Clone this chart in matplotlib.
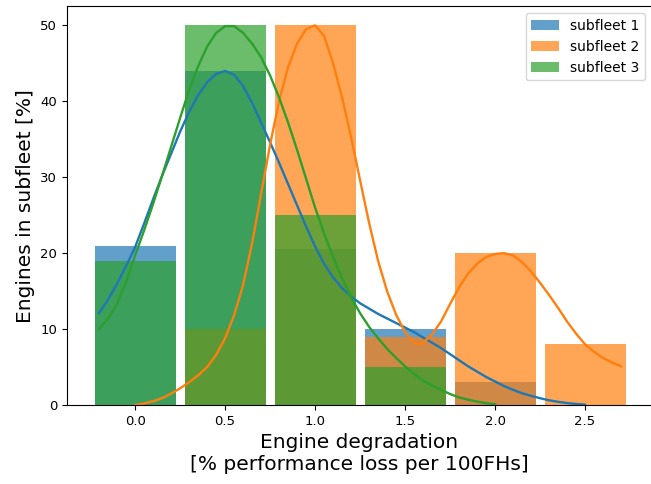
import matplotlib
matplotlib.use("Agg")
import matplotlib.pyplot as plt

# histogram bars (bin centres, % of engines per subfleet)
bin_centres = [0.0, 0.5, 1.0, 1.5, 2.0, 2.5]
subfleet1 = [21, 44, 20.5, 10, 3, 0]
subfleet2 = [0, 10, 50, 9, 20, 8]
subfleet3 = [19, 50, 25, 5, 0, 0]

labels = ["subfleet 1", "subfleet 2", "subfleet 3"]
colors = ["tab:blue", "tab:orange", "tab:green"]

# density curves
kde1_x = [-0.20, -0.15, -0.10, -0.05, 0.00, 0.05, 0.10, 0.15, 0.20, 0.25, 0.30, 0.35,
          0.40, 0.45, 0.50, 0.55, 0.60, 0.65, 0.70, 0.75, 0.80, 0.85, 0.90, 0.95,
          1.00, 1.05, 1.10, 1.15, 1.20, 1.25, 1.30, 1.35, 1.40, 1.45, 1.50, 1.55,
          1.60, 1.65, 1.70, 1.75, 1.80, 1.85, 1.90, 1.95, 2.00, 2.05, 2.10, 2.15,
          2.20, 2.25, 2.30, 2.35, 2.40, 2.45, 2.50]
kde1_y = [12.1, 13.9, 16.0, 18.3, 20.8, 23.9, 27.1, 30.2, 33.1, 36.0, 38.6, 40.8,
          42.5, 43.6, 44.0, 43.5, 42.0, 39.8, 37.2, 34.6, 31.9, 29.1, 26.3, 23.5,
          20.9, 18.6, 16.8, 15.4, 14.3, 13.4, 12.7, 12.0, 11.4, 10.8, 10.2, 9.6,
          8.9, 8.2, 7.5, 6.7, 5.9, 5.1, 4.4, 3.7, 3.1, 2.5, 2.0, 1.55,
          1.2, 0.9, 0.62, 0.42, 0.26, 0.14, 0.05]

kde2_x = [0.00, 0.05, 0.10, 0.15, 0.20, 0.25, 0.30, 0.35, 0.40, 0.45, 0.50, 0.55,
          0.60, 0.65, 0.70, 0.75, 0.80, 0.85, 0.90, 0.95, 1.00, 1.05, 1.10, 1.15,
          1.20, 1.25, 1.30, 1.35, 1.40, 1.45, 1.50, 1.55, 1.58, 1.60, 1.65, 1.70,
          1.75, 1.80, 1.85, 1.90, 1.95, 2.00, 2.05, 2.10, 2.15, 2.20, 2.25, 2.30,
          2.35, 2.40, 2.45, 2.50, 2.55, 2.60, 2.65, 2.70]
kde2_y = [0.0, 0.2, 0.5, 0.9, 1.5, 2.2, 3.0, 3.9, 5.0, 6.6, 8.8, 11.8,
          15.8, 21.3, 27.8, 34.3, 40.0, 44.5, 47.6, 49.5, 50.0, 48.6, 45.0, 40.5,
          35.3, 29.6, 24.0, 19.0, 15.0, 11.9, 9.6, 8.2, 8.0, 8.2, 9.3, 11.0,
          13.3, 15.5, 17.3, 18.6, 19.5, 19.9, 20.0, 19.7, 18.8, 17.6, 16.1, 14.5,
          12.8, 11.0, 9.4, 8.0, 7.0, 6.2, 5.6, 5.1]

kde3_x = [-0.20, -0.15, -0.10, -0.05, 0.00, 0.05, 0.10, 0.15, 0.20, 0.25, 0.30, 0.35,
          0.40, 0.45, 0.50, 0.55, 0.60, 0.65, 0.70, 0.75, 0.80, 0.85, 0.90, 0.95,
          1.00, 1.05, 1.10, 1.15, 1.20, 1.25, 1.30, 1.35, 1.40, 1.45, 1.50, 1.55,
          1.60, 1.65, 1.70, 1.75, 1.80, 1.85, 1.90, 1.95, 2.00]
kde3_y = [10.0, 11.4, 13.3, 16.2, 19.7, 23.0, 26.5, 30.2, 34.0, 37.8, 41.5, 44.6,
          47.2, 49.0, 49.9, 49.9, 49.0, 47.6, 45.8, 43.4, 40.5, 37.2, 33.6, 29.8,
          26.0, 22.6, 19.5, 16.7, 14.2, 12.1, 10.3, 8.8, 7.4, 6.2, 5.1, 4.1,
          3.2, 2.55, 2.0, 1.45, 1.0, 0.7, 0.45, 0.25, 0.1]

fig = plt.figure(figsize=(6.51, 4.84), dpi=100)
ax = fig.add_axes([0.1025, 0.1632, 0.899, 0.8236])

for vals, c, lab in zip([subfleet1, subfleet2, subfleet3], colors, labels):
    ax.bar(bin_centres, vals, width=0.45, color=c, alpha=0.7, label=lab, linewidth=0)

for kx, ky, c in zip([kde1_x, kde2_x, kde3_x], [kde1_y, kde2_y, kde3_y], colors):
    ax.plot(kx, ky, color=c, linewidth=1.7, solid_joinstyle="round")

ax.set_xlim(-0.38, 2.872)
ax.set_ylim(0, 52.5)
ax.set_xticks([0.0, 0.5, 1.0, 1.5, 2.0, 2.5])
ax.tick_params(labelsize=9.5)
ax.set_xlabel("Engine degradation\n[% performance loss per 100FHs]", fontsize=14.5)
ax.set_ylabel("Engines in subfleet [%]", fontsize=14.5)
ax.legend(loc="upper right", fontsize=10)

fig.savefig("out.png", dpi=100)
